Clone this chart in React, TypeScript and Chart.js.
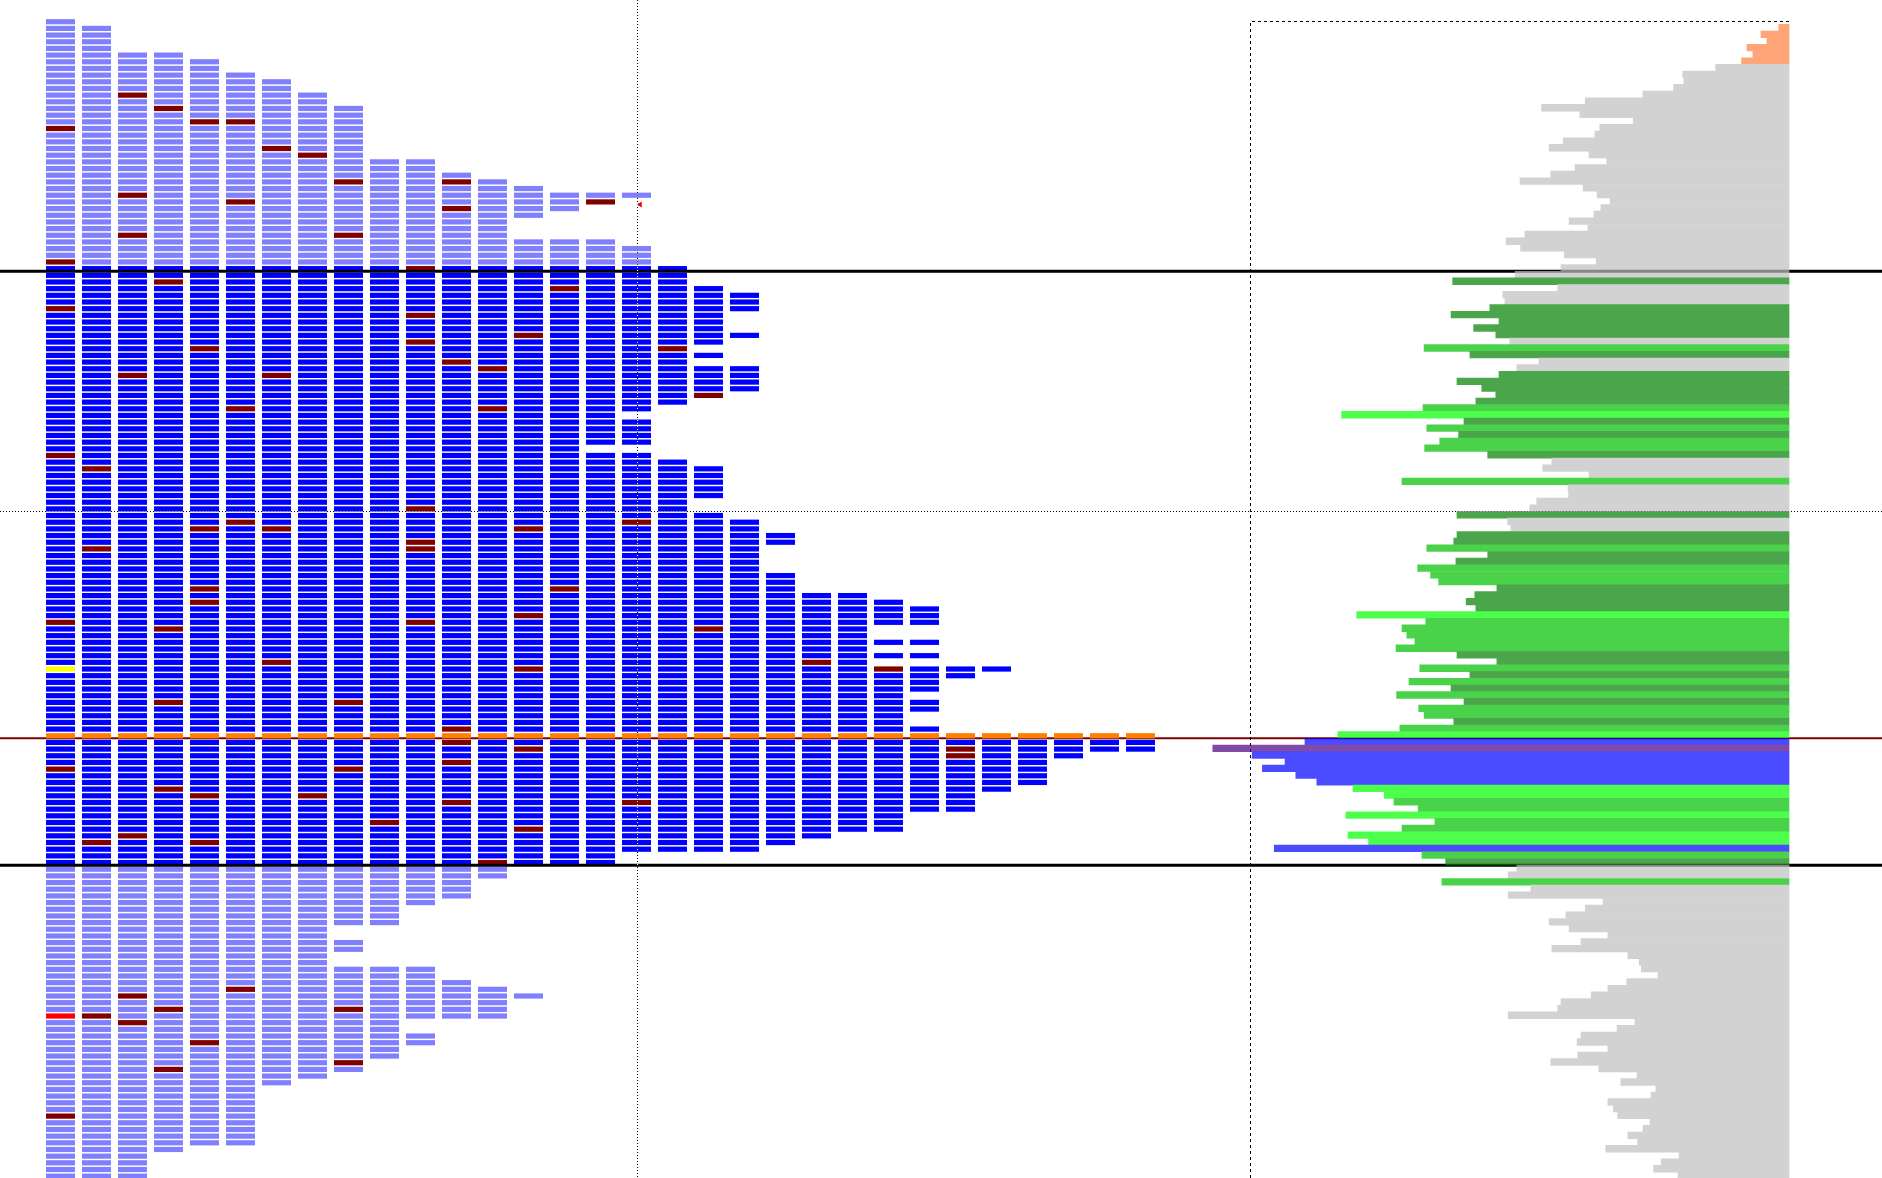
import React, { useEffect, useRef } from "react";
import { Chart, registerables } from "chart.js";

Chart.register(...registerables);

// Price levels are numbered from the top of the profile (0 = highest level).
const valueAreaHigh = 37;
const valueAreaLow = 126;
const pointOfControl = 107;
const referenceLevel = 73;
const currentPeriod = 16;
const lastPriceLevel = 27;

// TPO prints per period: inclusive [fromLevel, toLevel] runs
const periodRanges: number[][][] = [
  [[0, 173]],
  [[1, 173]],
  [[5, 173]],
  [[5, 169]],
  [[6, 168]],
  [[8, 168]],
  [[9, 159]],
  [[11, 158]],
  [[13, 135], [138, 139], [142, 157]],
  [[21, 135], [142, 155]],
  [[21, 132], [142, 149], [152, 153]],
  [[23, 131], [144, 149]],
  [[24, 128], [145, 149]],
  [[25, 29], [33, 126], [146, 146]],
  [[26, 28], [33, 126]],
  [[26, 27], [33, 63], [65, 126]],
  [[26, 26], [34, 58], [60, 63], [65, 124]],
  [[37, 57], [66, 124]],
  [[40, 48], [50, 50], [52, 56], [67, 71], [74, 124]],
  [[41, 43], [47, 47], [52, 55], [75, 124]],
  [[77, 78], [83, 123]],
  [[86, 122]],
  [[86, 121]],
  [[87, 90], [93, 93], [95, 95], [97, 121]],
  [[88, 90], [93, 93], [95, 95], [97, 100], [102, 103], [106, 118]],
  [[97, 98], [107, 118]],
  [[97, 97], [107, 115]],
  [[107, 114]],
  [[107, 110]],
  [[107, 109]],
  [[107, 109]],
];

// levels printed dark red in each period
const darkMarks: number[][] = [
  [16, 36, 43, 65, 90, 112, 164],
  [67, 79, 123, 149],
  [11, 26, 32, 53, 122, 146, 150],
  [13, 39, 91, 102, 115, 148, 157],
  [15, 49, 76, 85, 87, 116, 123, 153],
  [15, 27, 58, 75, 145],
  [19, 53, 76, 96],
  [20, 116],
  [24, 32, 102, 112, 148, 156],
  [120],
  [37, 44, 48, 73, 78, 79, 90],
  [24, 28, 51, 106, 108, 111, 117],
  [52, 58, 126],
  [47, 76, 89, 97, 109, 121],
  [40, 85],
  [27],
  [75, 117],
  [49],
  [56, 91],
  [],
  [],
  [96],
  [],
  [97],
  [],
  [109, 110],
  [],
  [],
  [],
  [],
  [],
];
const yellowMarks: number[][] = [[0, 97]];
const redMarks: number[][] = [[0, 149]];

// volume per level (levels 0..173)
const volume: number[] = [
  1.9, 5.2, 4.1, 7.8, 6.7, 8.8,
  13.6, 19.7, 19.5, 21.4, 27.1, 37.8, 45.9, 38.8, 28.9, 35.1,
  36.0, 41.9, 44.5, 37.1, 33.8, 39.7, 44.2, 49.9, 38.2, 35.6,
  33.2, 34.9, 36.2, 40.8, 37.3, 49.0, 52.5, 49.8, 41.7, 35.8,
  42.3, 50.8, 62.4, 42.9, 53.1, 52.7, 55.5, 62.7, 53.8, 58.5,
  54.4, 51.8, 67.7, 59.2, 46.4, 50.5, 53.8, 61.6, 57.0, 54.4,
  58.1, 67.9, 83.0, 60.3, 67.2, 61.3, 64.8, 67.6, 55.9, 44.0,
  45.7, 37.1, 71.8, 41.0, 40.9, 46.8, 48.1, 61.6, 52.2, 51.6,
  61.6, 62.2, 67.2, 55.9, 61.8, 68.9, 66.5, 65.0, 54.2, 58.3,
  59.9, 58.1, 80.2, 67.4, 71.8, 70.9, 69.4, 72.9, 61.6, 54.2,
  68.5, 59.2, 70.5, 62.7, 72.8, 60.3, 68.7, 67.7, 62.2, 72.2,
  83.7, 89.8, 106.9, 99.6, 93.5, 97.7, 91.5, 87.6, 80.9, 75.1,
  73.3, 68.8, 82.2, 65.7, 71.8, 81.8, 78.0, 95.5, 68.1, 63.7,
  50.5, 52.1, 64.4, 47.9, 52.1, 34.5, 37.8, 41.4, 44.5, 40.8,
  33.6, 38.6, 44.0, 29.9, 27.8, 27.4, 24.3, 30.1, 33.6, 36.7,
  42.3, 42.9, 52.1, 28.6, 31.9, 38.6, 39.3, 33.6, 39.2, 44.2,
  35.3, 28.2, 31.2, 24.7, 25.6, 33.6, 32.6, 31.8, 25.8, 27.1,
  29.9, 28.1, 34.0, 20.4, 23.7, 25.1, 20.6, 19.9,
];

// volume class per level: o=top, g=outside, d/m/b=greens, u=blue, p=purple
const volumeClass: string[] = (
  "oooooo" +
  "gggggggggg" +
  "gggggggggg" +
  "gggggggggg" +
  "ggdgggdddd" +
  "dgmdggdddd" +
  "dmbdmdmmdg" +
  "ggmggggdgg" +
  "ddmddmmmdd" +
  "ddbmmmmmdd" +
  "mdmdmdmmdm" +
  "bupuuuuubb" +
  "mmbmmbbumd" +
  "ggmggggggg" +
  "gggggggggg" +
  "gggggggggg" +
  "gggggggggg" +
  "gggggggg"
).split("");

const volumeScaleFull = 100;

// ---- geometry / styles ----
const W = 1882;
const H = 1178;
const BLOCK_W = 29 / 36;
const X_MIN = -46 / 36;
const X_MAX = (W - 46) / 36;
const VOL_PX = 5.39;
const VOL_MIN = -(W - 1789) / VOL_PX;
const VOL_MAX = VOL_MIN + W / VOL_PX;
const ROW_PX = 6.673;
const Y_MIN = -24.34 / ROW_PX;
const Y_MAX = Y_MIN + H / ROW_PX;
const HIST_ALPHA = 0.7;

const TPO_COLORS = {
  outside: "#8080ff",
  inside: "#0000ff",
  dark: "#800000",
  poc: "#ff8000",
  yellow: "#ffff00",
  red: "#ff0000",
};
const VOL_COLORS: Record<string, string> = {
  o: "rgb(255,128,64)",
  g: "rgb(192,192,192)",
  d: "rgb(0,128,0)",
  m: "rgb(0,192,0)",
  b: "rgb(0,255,0)",
  u: "rgb(0,0,255)",
  p: "rgb(75,0,130)",
};

function tpoColor(col: number, lvl: number): string {
  if (lvl === pointOfControl) return TPO_COLORS.poc;
  if (yellowMarks.some(([c, l]) => c === col && l === lvl)) return TPO_COLORS.yellow;
  if (redMarks.some(([c, l]) => c === col && l === lvl)) return TPO_COLORS.red;
  if (darkMarks[col].includes(lvl)) return TPO_COLORS.dark;
  return lvl >= valueAreaHigh && lvl <= valueAreaLow ? TPO_COLORS.inside : TPO_COLORS.outside;
}

const emptyTicks = (scale: any) => {
  scale.ticks = [];
};

const layerState: { main: any; off: HTMLCanvasElement | null } = { main: null, off: null };

const overlayPlugin = {
  id: "profileOverlay",
  beforeDraw(chart: any) {
    const ctx = chart.ctx;
    ctx.save();
    ctx.fillStyle = "#ffffff";
    ctx.fillRect(0, 0, chart.width, chart.height);
    ctx.restore();
  },
  beforeDatasetsDraw(chart: any) {
    const ctx = chart.ctx;
    const y = chart.scales.y;
    const v = chart.scales.x2;
    ctx.save();
    // point of control line
    ctx.strokeStyle = "#800000";
    ctx.lineWidth = 2;
    const py = y.getPixelForValue(pointOfControl);
    ctx.beginPath();
    ctx.moveTo(0, py);
    ctx.lineTo(chart.width, py);
    ctx.stroke();
    // dashed frame of the volume panel
    const left = Math.round(v.getPixelForValue(volumeScaleFull)) + 0.5;
    const right = v.getPixelForValue(0);
    const top = Math.round(y.getPixelForValue(-0.5)) + 0.5;
    ctx.strokeStyle = "#000000";
    ctx.lineWidth = 1;
    ctx.setLineDash([3, 3]);
    ctx.beginPath();
    ctx.moveTo(left, chart.height);
    ctx.lineTo(left, top);
    ctx.lineTo(right, top);
    ctx.stroke();
    ctx.restore();
  },
  beforeDatasetDraw(chart: any, args: any) {
    if (args.index !== 1) return;
    // draw the volume histogram on its own layer, then blend it once
    const main = chart.ctx;
    if (!layerState.off) layerState.off = document.createElement("canvas");
    const offCanvas = layerState.off;
    offCanvas.width = main.canvas.width;
    offCanvas.height = main.canvas.height;
    const off = offCanvas.getContext("2d") as any;
    off.setTransform(main.getTransform());
    layerState.main = main;
    chart.ctx = off;
    args.meta.controller._ctx = off;
  },
  afterDatasetDraw(chart: any, args: any) {
    if (args.index === 0) {
      const ctx = chart.ctx;
      const y = chart.scales.y;
      ctx.save();
      ctx.strokeStyle = "#000000";
      ctx.lineWidth = 3;
      [valueAreaHigh, valueAreaLow].forEach((lvl) => {
        const py = y.getPixelForValue(lvl);
        ctx.beginPath();
        ctx.moveTo(0, py);
        ctx.lineTo(chart.width, py);
        ctx.stroke();
      });
      ctx.restore();
      return;
    }
    if (args.index === 1 && layerState.main) {
      const main = layerState.main;
      chart.ctx = main;
      args.meta.controller._ctx = main;
      main.save();
      main.setTransform(1, 0, 0, 1, 0, 0);
      main.globalAlpha = HIST_ALPHA;
      main.drawImage(layerState.off, 0, 0);
      main.restore();
      layerState.main = null;
    }
  },
  afterDatasetsDraw(chart: any) {
    const ctx = chart.ctx;
    const x = chart.scales.x;
    const y = chart.scales.y;
    ctx.save();
    ctx.globalCompositeOperation = "difference";
    ctx.strokeStyle = "#ffffff";
    ctx.lineWidth = 1;
    ctx.setLineDash([1, 2]);
    const px = Math.round(x.getPixelForValue(currentPeriod + BLOCK_W / 2)) + 0.5;
    ctx.beginPath();
    ctx.moveTo(px, 0);
    ctx.lineTo(px, chart.height);
    ctx.stroke();
    const py = Math.round(y.getPixelForValue(referenceLevel)) + 0.5;
    ctx.beginPath();
    ctx.moveTo(0, py);
    ctx.lineTo(chart.width, py);
    ctx.stroke();
    ctx.restore();
  },
};

export default function App() {
  const canvasRef = useRef<HTMLCanvasElement | null>(null);

  useEffect(() => {
    const canvas = canvasRef.current;
    if (!canvas) return;

    const tpoPoints: any[] = [];
    const tpoColors: string[] = [];
    periodRanges.forEach((ranges, col) => {
      ranges.forEach(([from, to]) => {
        for (let lvl = from; lvl <= to; lvl++) {
          tpoPoints.push({ x: [col, col + BLOCK_W], y: lvl });
          tpoColors.push(tpoColor(col, lvl));
        }
      });
    });

    const volPoints = volume.map((v, lvl) => ({ x: v, y: lvl }));
    const volColors = volumeClass.map((c) => VOL_COLORS[c]);

    const hidden = {
      type: "linear",
      display: false,
      bounds: "data",
      offset: false,
      grace: 0,
      beginAtZero: false,
      afterBuildTicks: emptyTicks,
    };

    const chart = new Chart(canvas, {
      type: "bar",
      data: {
        datasets: [
          {
            type: "bar",
            indexAxis: "y",
            data: tpoPoints,
            backgroundColor: tpoColors,
            xAxisID: "x",
            yAxisID: "y",
            barThickness: 5.2,
            inflateAmount: 0,
            borderWidth: 0,
            order: 3,
          } as any,
          {
            type: "bar",
            indexAxis: "y",
            data: volPoints,
            backgroundColor: volColors,
            xAxisID: "x2",
            yAxisID: "y2",
            barThickness: ROW_PX,
            inflateAmount: 0.33,
            borderWidth: 0,
            order: 2,
          } as any,
          {
            type: "scatter",
            data: [{ x: currentPeriod + 0.5, y: lastPriceLevel }],
            xAxisID: "x",
            yAxisID: "y",
            pointStyle: "triangle",
            rotation: -90,
            radius: 3.5,
            backgroundColor: "#ff0000",
            borderWidth: 0,
            order: 1,
          } as any,
        ],
      },
      options: {
        responsive: false,
        animation: false,
        events: [],
        layout: { padding: 0, autoPadding: false },
        plugins: {
          legend: { display: false },
          tooltip: { enabled: false },
          title: { display: false },
        },
        scales: {
          x: { ...hidden, axis: "x", position: "bottom", min: X_MIN, max: X_MAX },
          x2: { ...hidden, axis: "x", position: "top", min: VOL_MIN, max: VOL_MAX, reverse: true },
          y: { ...hidden, axis: "y", position: "left", min: Y_MIN, max: Y_MAX, reverse: true },
          y2: { ...hidden, axis: "y", position: "right", min: Y_MIN, max: Y_MAX, reverse: true },
        },
      } as any,
      plugins: [overlayPlugin],
    });

    return () => chart.destroy();
  }, []);

  return (
    <div
      style={{
        position: "fixed",
        left: 0,
        top: 0,
        width: W,
        height: H,
        background: "#ffffff",
      }}
    >
      <canvas ref={canvasRef} width={W} height={H} style={{ display: "block", width: W, height: H }} />
    </div>
  );
}
